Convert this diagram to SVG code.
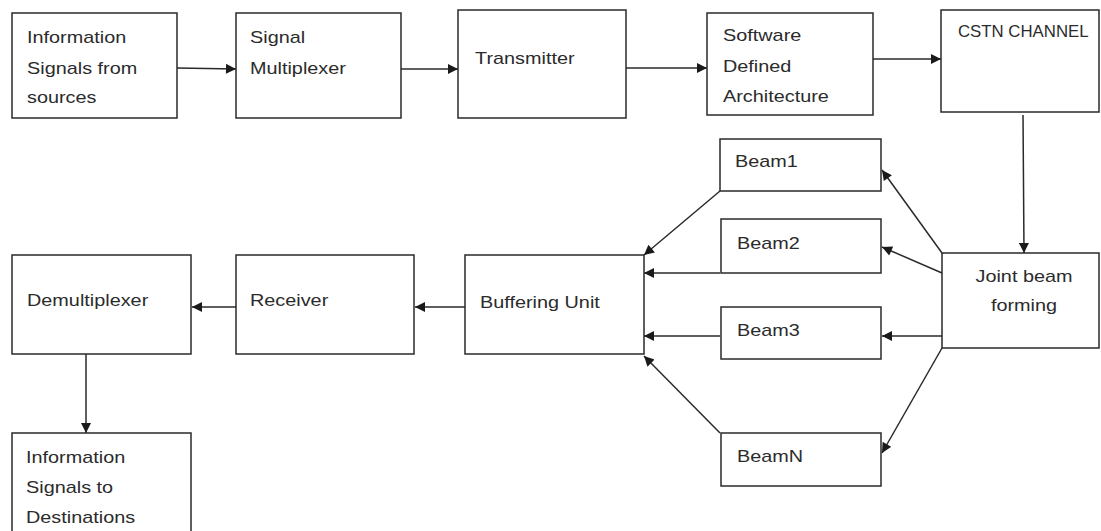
<svg xmlns="http://www.w3.org/2000/svg" width="1101" height="531" viewBox="0 0 1101 531">
<style>
.box{fill:#fff;stroke:#2a2a2a;stroke-width:1.5}
.lbl{font-family:"Liberation Sans",Arial,sans-serif;font-size:16px;fill:#2b2b2b}
.con{stroke:#2a2a2a;stroke-width:1.5;fill:none;marker-end:url(#ah)}
</style>
<defs>
<marker id="ah" viewBox="0 0 10 10" refX="10" refY="5" markerWidth="12" markerHeight="10" markerUnits="userSpaceOnUse" orient="auto">
<path d="M0,0 L10,5 L0,10 z" fill="#1a1a1a"/>
</marker>
</defs>
<rect width="1101" height="531" fill="#fff"/>
<g id="connectors">
<line class="con" x1="177" y1="68" x2="236" y2="69"/>
<line class="con" x1="401" y1="69" x2="458" y2="69"/>
<line class="con" x1="626" y1="68" x2="707" y2="68"/>
<line class="con" x1="873" y1="59" x2="941" y2="59"/>
<line class="con" x1="1023" y1="115" x2="1024" y2="253"/>
<line class="con" x1="942" y1="253" x2="882" y2="170"/>
<line class="con" x1="942" y1="273" x2="882" y2="247"/>
<line class="con" x1="942" y1="336" x2="882" y2="336"/>
<line class="con" x1="942" y1="348" x2="882" y2="453"/>
<line class="con" x1="720" y1="191" x2="644" y2="255"/>
<line class="con" x1="720" y1="273" x2="644" y2="273"/>
<line class="con" x1="720" y1="336" x2="644" y2="336"/>
<line class="con" x1="720" y1="433" x2="644" y2="356"/>
<line class="con" x1="465" y1="307" x2="415" y2="307"/>
<line class="con" x1="236" y1="307" x2="192" y2="307"/>
<line class="con" x1="86" y1="354" x2="86" y2="433"/>
</g>
<g id="n_info_src">
<rect class="box" x="12" y="13" width="165" height="105"/>
<text class="lbl" transform="translate(27 43) scale(1.24 1)"><tspan x="0" y="0">Information</tspan><tspan x="0" y="31">Signals from</tspan><tspan x="0" y="60">sources</tspan></text>
</g>
<g id="n_mux">
<rect class="box" x="236" y="13" width="165" height="105"/>
<text class="lbl" transform="translate(250 43) scale(1.24 1)"><tspan x="0" y="0">Signal</tspan><tspan x="0" y="31">Multiplexer</tspan></text>
</g>
<g id="n_tx">
<rect class="box" x="458" y="10" width="168" height="108"/>
<text class="lbl" transform="translate(475 64) scale(1.24 1)">Transmitter</text>
</g>
<g id="n_sda">
<rect class="box" x="707" y="13" width="166" height="102"/>
<text class="lbl" transform="translate(723 41) scale(1.24 1)"><tspan x="0" y="0">Software</tspan><tspan x="0" y="31">Defined</tspan><tspan x="0" y="61">Architecture</tspan></text>
</g>
<g id="n_cstn">
<rect class="box" x="941" y="10" width="158" height="102"/>
<text class="lbl" transform="translate(958 37) scale(1.05 1)">CSTN CHANNEL</text>
</g>
<g id="n_joint">
<rect class="box" x="942" y="253" width="157" height="95"/>
<text class="lbl" text-anchor="middle" transform="translate(1024 282) scale(1.24 1)"><tspan x="0" y="0">Joint beam</tspan><tspan x="0" y="29">forming</tspan></text>
</g>
<g id="n_beam1">
<rect class="box" x="720" y="139" width="161" height="52"/>
<text class="lbl" transform="translate(735 167) scale(1.24 1)">Beam1</text>
</g>
<g id="n_beam2">
<rect class="box" x="721" y="219" width="160" height="54"/>
<text class="lbl" transform="translate(737 249) scale(1.24 1)">Beam2</text>
</g>
<g id="n_beam3">
<rect class="box" x="721" y="307" width="160" height="52"/>
<text class="lbl" transform="translate(737 336) scale(1.24 1)">Beam3</text>
</g>
<g id="n_beamN">
<rect class="box" x="721" y="433" width="160" height="53"/>
<text class="lbl" transform="translate(737 462) scale(1.24 1)">BeamN</text>
</g>
<g id="n_buffer">
<rect class="box" x="465" y="255" width="179" height="99"/>
<text class="lbl" transform="translate(480 308) scale(1.24 1)">Buffering Unit</text>
</g>
<g id="n_rx">
<rect class="box" x="236" y="255" width="178" height="99"/>
<text class="lbl" transform="translate(250 306) scale(1.24 1)">Receiver</text>
</g>
<g id="n_demux">
<rect class="box" x="12" y="255" width="179" height="99"/>
<text class="lbl" transform="translate(27 306) scale(1.24 1)">Demultiplexer</text>
</g>
<g id="n_info_dst">
<rect class="box" x="12" y="433" width="179" height="110"/>
<text class="lbl" transform="translate(26 463) scale(1.24 1)"><tspan x="0" y="0">Information</tspan><tspan x="0" y="30">Signals to</tspan><tspan x="0" y="60">Destinations</tspan></text>
</g>
</svg>
